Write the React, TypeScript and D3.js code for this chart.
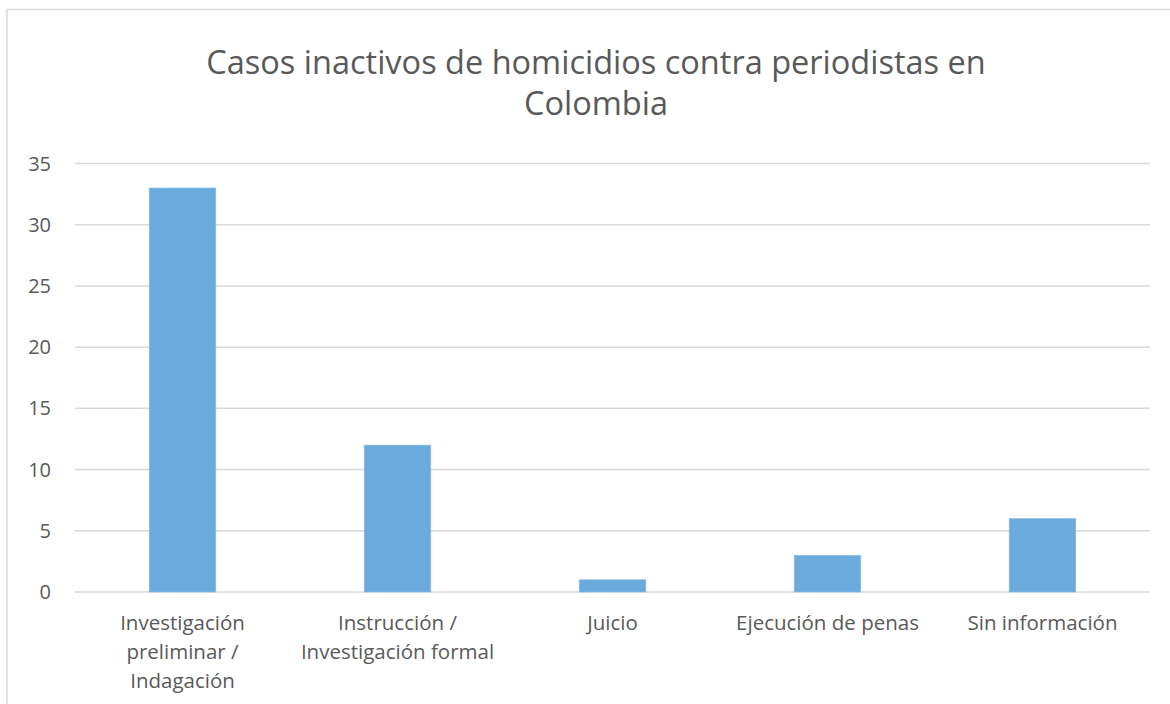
import React from "react";
import * as d3 from "d3";

const categories: string[][] = [
  ["Investigación", "preliminar /", "Indagación"],
  ["Instrucción /", "Investigación formal"],
  ["Juicio"],
  ["Ejecución de penas"],
  ["Sin información"],
];
const values: number[] = [33, 12, 1, 3, 6];
const yTicks: number[] = [0, 5, 10, 15, 20, 25, 30, 35];
const titleLines: string[] = [
  "Casos inactivos de homicidios contra periodistas en",
  "Colombia",
];

const W = 1170;
const H = 704;
const plotLeft = 75;
const plotRight = 1150;
const plotTop = 163.5;
const plotBottom = 592;
const FONT = "'Open Sans', sans-serif";
const TEXT = "#595959";

export default function App() {
  const x = d3
    .scaleBand<number>()
    .domain(values.map((_, i) => i))
    .range([plotLeft, plotRight])
    .paddingInner(0.69)
    .paddingOuter(0.345);
  const y = d3.scaleLinear().domain([0, 35]).range([plotBottom, plotTop]);
  const step = (plotRight - plotLeft) / values.length;

  return (
    <svg
      width={W}
      height={H}
      style={{ position: "fixed", left: 0, top: 0, background: "#fff" }}
    >
      <rect x={0} y={0} width={W} height={H} fill="#fff" />
      <rect
        x={7}
        y={9.5}
        width={W}
        height={H}
        fill="#fff"
        stroke="#d9d9d9"
        strokeWidth={1.5}
      />
      {titleLines.map((t, i) => (
        <text
          key={i}
          x={596}
          y={74 + i * 41}
          textAnchor="middle"
          fontFamily={FONT}
          fontSize={32.5}
          fill={TEXT}
        >
          {t}
        </text>
      ))}
      {yTicks.map((t) => (
        <g key={t}>
          <line
            x1={plotLeft}
            x2={plotRight}
            y1={y(t)}
            y2={y(t)}
            stroke="#d9d9d9"
            strokeWidth={1.5}
          />
          <text
            x={51}
            y={y(t)}
            dy="0.35em"
            textAnchor="end"
            fontFamily={FONT}
            fontSize={20}
            fill={TEXT}
          >
            {t}
          </text>
        </g>
      ))}
      {values.map((v, i) => (
        <rect
          key={i}
          x={x(i)}
          y={y(v)}
          width={x.bandwidth()}
          height={y(0) - y(v)}
          fill="#6aaadc"
          stroke="#8ec0e8"
          strokeWidth={0.6}
        />
      ))}
      {categories.map((lines, i) => (
        <text
          key={i}
          x={plotLeft + step * (i + 0.5)}
          textAnchor="middle"
          fontFamily={FONT}
          fontSize={20.5}
          fill={TEXT}
        >
          {lines.map((l, j) => (
            <tspan key={j} x={plotLeft + step * (i + 0.5)} y={630 + j * 29}>
              {l}
            </tspan>
          ))}
        </text>
      ))}
    </svg>
  );
}
